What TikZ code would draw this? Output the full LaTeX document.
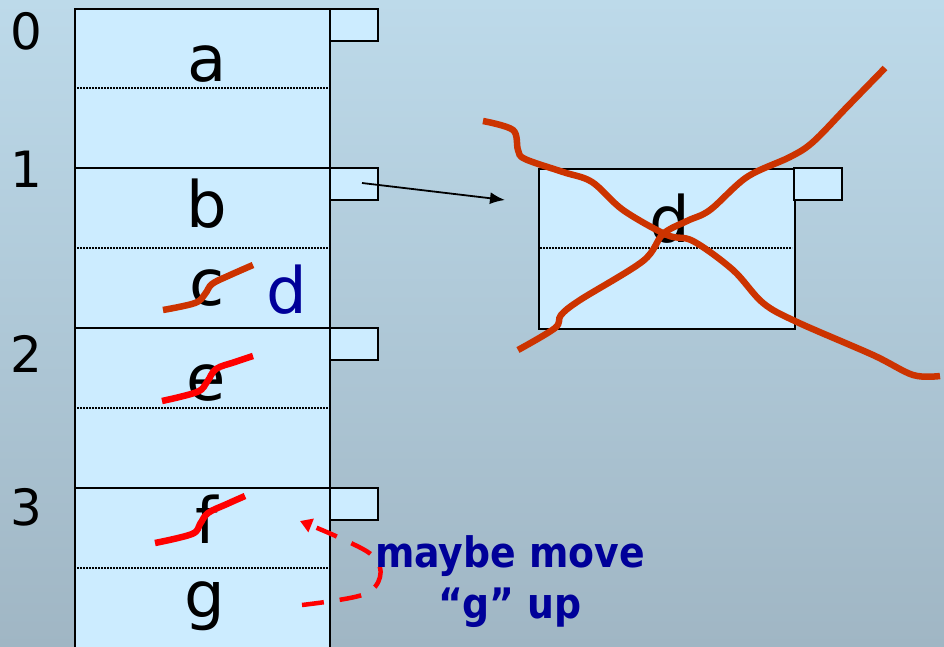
\documentclass[tikz,border=0pt]{standalone}
\usepackage{fontspec}
\setmainfont{DejaVu Sans}
\newfontfamily\notefont{DejaVu Sans Condensed}
\usetikzlibrary{arrows.meta}
\definecolor{cellblue}{HTML}{CCECFF}
\definecolor{bgtop}{HTML}{BDDAEA}
\definecolor{bgbot}{HTML}{A0B6C4}
\definecolor{strike}{HTML}{CC3300}
\definecolor{brightred}{HTML}{FF0000}
\definecolor{navy}{HTML}{000099}
\begin{document}
\begin{tikzpicture}[x=1pt,y=-1pt,
  edge/.style={draw=black, line width=1.8pt},
  sep/.style={black, line width=1.6pt, dash pattern=on 1.6pt off 1.4pt},
  tabbox/.style={draw=black, line width=1.8pt, fill=cellblue},
  letter/.style={font=\fontsize{64}{64}\selectfont, anchor=base, inner sep=0pt},
  digit/.style={font=\fontsize{50}{50}\selectfont, anchor=base, inner sep=0pt},
  scribble/.style={line width=6.5pt, strike},
  redscribble/.style={line width=6.5pt, brightred},
  note/.style={font=\notefont\bfseries\fontsize{42}{42}\selectfont, text=navy, anchor=base, inner sep=0pt},
  pointer/.style={line width=1.8pt, -{Latex[length=15pt,width=12pt]}}
]
\useasboundingbox (0,0) rectangle (944,647);
\shade[top color=bgtop, bottom color=bgbot] (0,0) rectangle (944,647);

% main column
\fill[cellblue] (75,9) rectangle (330,647);
\draw[edge] (75,647) -- (75,9) -- (330,9) -- (330,647);
\foreach \y in {168,328,488} \draw[edge] (75,\y) -- (330,\y);
\foreach \y in {88,248,408,568} \draw[sep] (77,\y) -- (328,\y);
\foreach \y/\n in {9/t0,168/t1,328/t2,488/t3}
  \draw[tabbox] (330,\y) rectangle (378,\y+32) coordinate (\n);

% digits
\node[digit] (n0) at (26,50) {0};
\node[digit] (n1) at (26,187) {1};
\node[digit] (n2) at (26,372) {2};
\node[digit] (n3) at (26,525) {3};

% letters
\node[letter] (la) at (207,82) {a};
\node[letter] (lb) at (207,227) {b};
\node[letter] (lc) at (207,305) {c};
\node[letter, text=navy] (ld) at (287,313) {d};
\node[letter] (le) at (206,400) {e};
\node[letter] (lf) at (207,543) {f};
\node[letter] (lg) at (205,617) {g};

% right box
\node[draw=black, line width=1.8pt, fill=cellblue, minimum width=256pt, minimum height=160pt, inner sep=0pt, anchor=north west] (dbox) at (538,168) {};
\draw[sep] (540,248) -- (792,248);
\draw[tabbox] (794,168) rectangle (842,200);
\node[letter] (dd) at (670,242) {d};

% pointer
\coordinate (bptr) at (362,183);
\coordinate (dentry) at (505,200);
\draw[pointer] (bptr) -- (dentry);

% strike-throughs
\draw[scribble] plot[smooth, tension=0.6] coordinates {(163,310) (195,303) (205,294) (212,284) (228,276) (253,265)};
\draw[redscribble] plot[smooth, tension=0.6] coordinates {(162,401) (197,392) (207,382) (216,369) (235,362) (253,356)};
\draw[redscribble] plot[smooth, tension=0.6] coordinates {(155,543) (192,534) (200,524) (208,513) (227,504) (245,496)};

\draw[scribble] plot[smooth, tension=0.55] coordinates {(483,121) (513,130) (518,150) (525,159) (563,172) (592,182) (623,210) (667,235) (693,241) (733,270) (763,303) (797,322) (873,355) (913,375) (940,376)};
\draw[scribble] plot[smooth, tension=0.55] coordinates {(518,350) (555,328) (561,315) (580,300) (643,261) (663,234) (687,221) (710,210) (747,177) (790,157) (813,142) (847,107) (885,68)};

% dashed move arrow
\draw[brightred, line width=4.5pt, dash pattern=on 22pt off 16pt, -{Triangle[length=12pt,width=14pt]}]
  plot[smooth, tension=0.6] coordinates {(302,605) (362,595) (380,577) (373,556) (340,538) (300,521)};

% note
\node[note] (note1) at (510,567) {maybe move};
\node[note] (note2) at (510,618) {“g” up};
\end{tikzpicture}
\end{document}
